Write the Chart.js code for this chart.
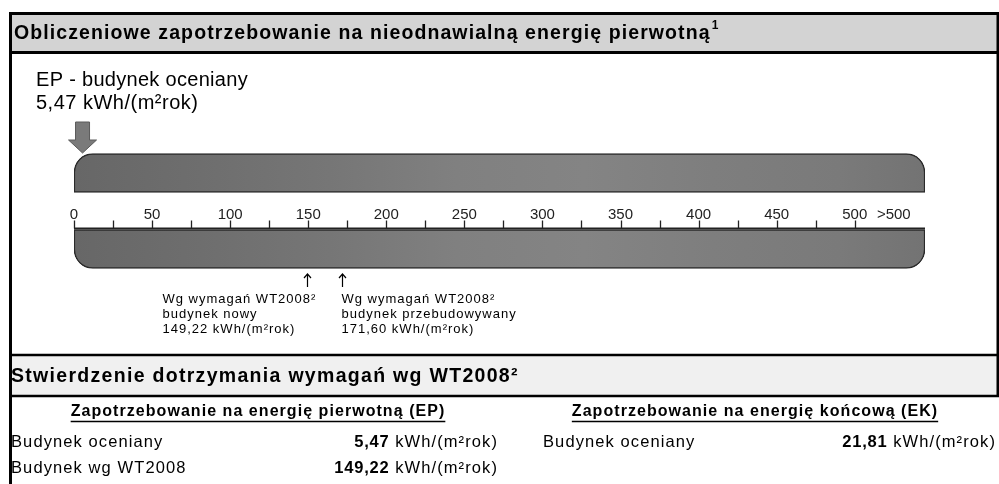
<!DOCTYPE html>
<html>
<head>
<meta charset="utf-8">
<script src="https://cdn.jsdelivr.net/npm/chart.js@4.4.1/dist/chart.umd.min.js"></script>
<style>
  html, body { margin: 0; padding: 0; background: #fff; }
  #wrap { width: 999px; height: 484px; }
</style>
</head>
<body>
<div id="wrap"><canvas id="epChart" width="999" height="484"></canvas></div>
<script>
// scale bands (top and bottom half of the ruler)
var bands = ['gora', 'dol'];
var bandRange = [0, 545];

// ruler ticks
var tickValues = [0, 50, 100, 150, 200, 250, 300, 350, 400, 450, 500];
var tickLabels = ['0', '50', '100', '150', '200', '250', '300', '350', '400', '450', '500'];
var minorTicks = [25, 75, 125, 175, 225, 275, 325, 375, 425, 475];
var overLabel = '>500';
var overValue = 525;

// values, kWh/(m2rok)
var epBuilding = 5.47;
var epNew = 149.22;
var epRebuilt = 171.60;
var ekBuilding = 21.81;

var FONT = '"Liberation Sans", Arial, Helvetica, sans-serif';

function fmt(v) {
    return v.toFixed(2).replace('.', ',');
}

function txt(ctx, s, x, y, size, bold, align, spacing, color) {
    ctx.font = (bold ? 'bold ' : '') + size + 'px ' + FONT;
    ctx.letterSpacing = (spacing || 0) + 'px';
    ctx.textAlign = align || 'left';
    ctx.textBaseline = 'middle';
    ctx.fillStyle = color || '#000';
    ctx.fillText(s, x, y);
    var w = ctx.measureText(s).width;
    ctx.letterSpacing = '0px';
    return w;
}

function hline(ctx, x1, x2, y, w) {
    ctx.beginPath();
    ctx.lineWidth = w;
    ctx.strokeStyle = '#000';
    ctx.moveTo(x1, y);
    ctx.lineTo(x2, y);
    ctx.stroke();
}

// value in bold + unit in normal, right aligned
function valueUnit(ctx, v, xr, y) {
    var unit = ' kWh/(m\u00B2rok)';
    var uw = txt(ctx, unit, xr, y, 16.5, false, 'right', 1.1);
    txt(ctx, fmt(v), xr - uw, y, 16.5, true, 'right', 0.8);
}

var frame = {
    id: 'frame',
    beforeDraw: function (chart) {
        var ctx = chart.ctx;
        ctx.save();
        // header bands
        ctx.fillStyle = '#d3d3d3';
        ctx.fillRect(10, 14, 988, 38);
        ctx.fillStyle = '#f0f0f0';
        ctx.fillRect(10, 356, 988, 40);
        hline(ctx, 9, 999, 13.5, 3);
        hline(ctx, 9, 999, 52.5, 3);
        hline(ctx, 9, 999, 355, 2.5);
        hline(ctx, 9, 999, 396, 2.5);
        ctx.beginPath();
        ctx.lineWidth = 3;
        ctx.moveTo(10.5, 12);
        ctx.lineTo(10.5, 484);
        ctx.moveTo(998, 12);
        ctx.lineTo(998, 397);
        ctx.stroke();
        ctx.restore();
    },
    afterDraw: function (chart) {
        var ctx = chart.ctx;
        var x = chart.scales.x;
        ctx.save();

        // titles
        var w = txt(ctx, 'Obliczeniowe zapotrzebowanie na nieodnawialną energię pierwotną', 14, 34, 19.5, true, 'left', 1.1);
        txt(ctx, '1', 14 + w + 1, 26, 12, true);
        txt(ctx, 'Stwierdzenie dotrzymania wymagań wg WT2008\u00B2', 11, 377, 19.5, true, 'left', 1.3);

        txt(ctx, 'EP - budynek oceniany', 36, 80, 20, false, 'left', 0.3);
        txt(ctx, fmt(epBuilding) + ' kWh/(m\u00B2rok)', 36, 103, 20, false, 'left', 0.5);

        // arrow for the evaluated building
        var ax = x.getPixelForValue(epBuilding);
        ctx.fillStyle = '#7a7a7a';
        ctx.strokeStyle = '#5a5a5a';
        ctx.lineWidth = 1;
        ctx.beginPath();
        ctx.moveTo(ax - 7, 122);
        ctx.lineTo(ax + 7, 122);
        ctx.lineTo(ax + 7, 140);
        ctx.lineTo(ax + 14, 140);
        ctx.lineTo(ax, 153);
        ctx.lineTo(ax - 14, 140);
        ctx.lineTo(ax - 7, 140);
        ctx.closePath();
        ctx.fill();
        ctx.stroke();

        // ruler line and ticks
        var y0 = 228.5;
        ctx.strokeStyle = '#222';
        ctx.lineWidth = 2;
        ctx.beginPath();
        ctx.moveTo(x.left, y0);
        ctx.lineTo(x.right, y0);
        ctx.stroke();
        ctx.lineWidth = 1.3;
        ctx.beginPath();
        tickValues.concat(minorTicks).forEach(function (v) {
            var px = Math.round(x.getPixelForValue(v)) + 0.5;
            ctx.moveTo(px, y0);
            ctx.lineTo(px, y0 - 8);
        });
        ctx.stroke();
        tickValues.forEach(function (v, i) {
            txt(ctx, tickLabels[i], x.getPixelForValue(v), 215, 15, false, 'center', 0, '#222');
        });
        txt(ctx, overLabel, x.getPixelForValue(overValue), 215, 15, false, 'center', 0, '#222');

        // requirement markers
        [[epNew, 'budynek nowy', -145], [epRebuilt, 'budynek przebudowywany', -1]].forEach(function (m) {
            var px = Math.round(x.getPixelForValue(m[0])) + 0.5;
            ctx.strokeStyle = '#000';
            ctx.lineWidth = 1.2;
            ctx.beginPath();
            ctx.moveTo(px, 287);
            ctx.lineTo(px, 274);
            ctx.moveTo(px - 3.5, 278);
            ctx.lineTo(px, 274);
            ctx.lineTo(px + 3.5, 278);
            ctx.stroke();
            var lx = px + m[2];
            txt(ctx, 'Wg wymagań WT2008\u00B2', lx, 299, 13, false, 'left', 1);
            txt(ctx, m[1], lx, 314, 13, false, 'left', 1);
            txt(ctx, fmt(m[0]) + ' kWh/(m\u00B2rok)', lx, 329, 13, false, 'left', 1);
        });

        // bottom table
        [['Zapotrzebowanie na energię pierwotną (EP)', 258], ['Zapotrzebowanie na energię końcową (EK)', 755]].forEach(function (h) {
            var hw = txt(ctx, h[0], h[1], 412, 16, true, 'center', 1.05);
            hline(ctx, h[1] - hw / 2, h[1] + hw / 2, 421.5, 1.3);
        });
        txt(ctx, 'Budynek oceniany', 11, 442, 16.5, false, 'left', 1.1);
        valueUnit(ctx, epBuilding, 498, 442);
        txt(ctx, 'Budynek wg WT2008', 11, 468, 16.5, false, 'left', 1.1);
        valueUnit(ctx, epNew, 498, 468);
        txt(ctx, 'Budynek oceniany', 543, 442, 16.5, false, 'left', 1.1);
        valueUnit(ctx, ekBuilding, 996, 442);

        ctx.restore();
    }
};

function bandFill(c) {
    var a = c.chart.chartArea;
    if (!a) return '#777';
    var g = c.chart.ctx.createLinearGradient(a.left, 0, a.right, 0);
    g.addColorStop(0, '#676767');
    g.addColorStop(0.15, '#6e6e6e');
    g.addColorStop(0.3, '#767676');
    g.addColorStop(0.45, '#808080');
    g.addColorStop(0.6, '#848484');
    g.addColorStop(0.75, '#7e7e7e');
    g.addColorStop(0.9, '#7a7a7a');
    g.addColorStop(1, '#737373');
    return g;
}

var bandStyle = {
    backgroundColor: bandFill,
    borderColor: '#2a2a2a',
    borderWidth: 1.5,
    borderSkipped: false,
    barThickness: 39,
    grouped: false
};

var chart = new Chart(document.getElementById('epChart'), {
    type: 'bar',
    plugins: [frame],
    data: {
        labels: bands,
        datasets: [
            Object.assign({
                data: [bandRange, null],
                borderRadius: { topLeft: 19, topRight: 19, bottomLeft: 0, bottomRight: 0 }
            }, bandStyle),
            Object.assign({
                data: [null, bandRange],
                borderRadius: { topLeft: 0, topRight: 0, bottomLeft: 19, bottomRight: 19 }
            }, bandStyle)
        ]
    },
    options: {
        indexAxis: 'y',
        responsive: false,
        animation: false,
        layout: { padding: { left: 74, right: 74, top: 135, bottom: 197 } },
        scales: {
            x: { type: 'linear', min: bandRange[0], max: bandRange[1], display: false },
            y: { display: false, offset: true }
        },
        plugins: {
            legend: { display: false },
            tooltip: { enabled: false }
        }
    }
});
</script>
</body>
</html>
